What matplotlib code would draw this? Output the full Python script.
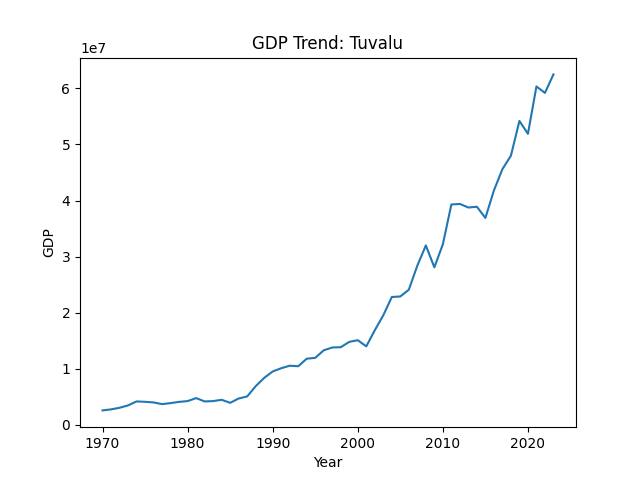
import matplotlib
matplotlib.use("Agg")
import matplotlib.pyplot as plt

years = list(range(1970, 2024))
gdp_e7 = [0.258, 0.276, 0.305, 0.347, 0.418, 0.411, 0.400, 0.370, 0.388, 0.410,
          0.424, 0.477, 0.418, 0.424, 0.447, 0.393, 0.470, 0.507, 0.690, 0.838,
          0.952, 1.010, 1.055, 1.046, 1.180, 1.195, 1.330, 1.380, 1.385, 1.480,
          1.510, 1.400, 1.687, 1.954, 2.280, 2.290, 2.410, 2.840, 3.200, 2.810,
          3.220, 3.930, 3.940, 3.876, 3.890, 3.690, 4.180, 4.560, 4.800, 5.420,
          5.190, 6.035, 5.920, 6.250]
gdp = [v * 1e7 for v in gdp_e7]

fig, ax = plt.subplots(figsize=(6.4, 4.8), dpi=100)
ax.plot(years, gdp)
ax.set_title("GDP Trend: Tuvalu")
ax.set_xlabel("Year")
ax.set_ylabel("GDP")
fig.savefig("out.png")
